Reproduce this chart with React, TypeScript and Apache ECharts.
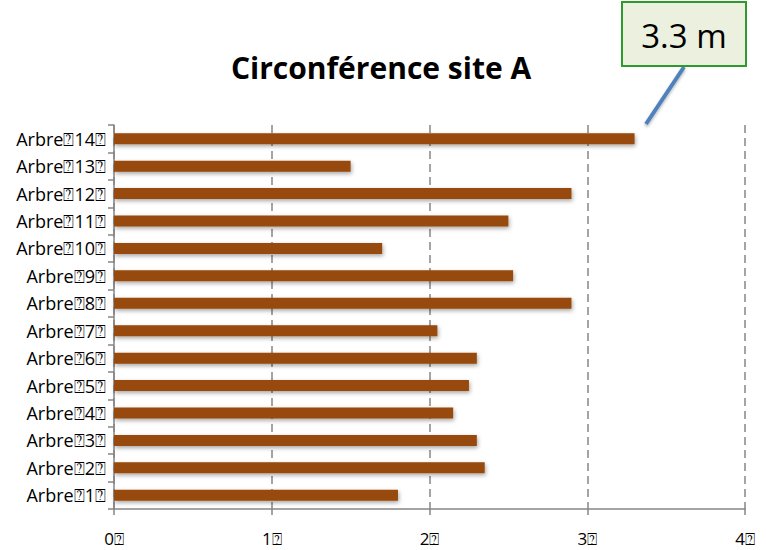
import React, { useEffect, useRef } from "react";
import * as echarts from "echarts";

const TITLE = "Circonférence site A";
const categories = [
  "Arbre⍰1⍰", "Arbre⍰2⍰", "Arbre⍰3⍰", "Arbre⍰4⍰", "Arbre⍰5⍰", "Arbre⍰6⍰", "Arbre⍰7⍰",
  "Arbre⍰8⍰", "Arbre⍰9⍰", "Arbre⍰10⍰", "Arbre⍰11⍰", "Arbre⍰12⍰", "Arbre⍰13⍰", "Arbre⍰14⍰",
];
const circumference = [1.8, 2.35, 2.3, 2.15, 2.25, 2.3, 2.05, 2.9, 2.53, 1.7, 2.5, 2.9, 1.5, 3.3];
const xTickLabels = ["0⍰", "1⍰", "2⍰", "3⍰", "4⍰"];
const calloutText = "3.3 m";

export default function App() {
  const ref = useRef<HTMLDivElement>(null);
  useEffect(() => {
    document.body.style.margin = "0";
    const chart = echarts.init(ref.current!, null, { renderer: "svg" });
    chart.setOption({
      animation: false,
      backgroundColor: "#ffffff",
      title: {
        text: TITLE,
        left: 376,
        textAlign: "center",
        top: 47,
        textStyle: { fontFamily: "Open Sans", fontWeight: "bold", fontSize: 30, color: "#000" },
      },
      grid: { left: 114, right: 21, top: 125, bottom: 41, containLabel: false },
      xAxis: {
        type: "value",
        min: 0,
        max: 4,
        interval: 1,
        axisLine: { show: true, lineStyle: { color: "#868686", width: 1.5 } },
        axisTick: { show: true, length: 6, lineStyle: { color: "#868686", width: 1.5 } },
        axisLabel: {
          margin: 21,
          fontFamily: "Open Sans",
          fontSize: 17,
          color: "#000",
          formatter: (v: number) => xTickLabels[Math.round(v)] ?? String(v),
        },
        splitLine: { show: true, lineStyle: { color: "#868686", width: 1.5, type: [8, 5] } },
      },
      yAxis: {
        type: "category",
        data: categories,
        axisLine: { show: true, lineStyle: { color: "#868686", width: 1.5 } },
        axisTick: { show: true, length: 6, lineStyle: { color: "#868686", width: 1.5 } },
        axisLabel: { margin: 8, fontFamily: "Open Sans", fontSize: 18, color: "#000" },
      },
      series: [
        {
          type: "bar",
          data: circumference,
          barWidth: 11,
          itemStyle: {
            color: "#984807",
            shadowColor: "rgba(0,0,0,0.35)",
            shadowBlur: 4,
            shadowOffsetX: 1,
            shadowOffsetY: 2,
          },
        },
      ],
      graphic: [
        {
          type: "line",
          shape: { x1: 684, y1: 67, x2: 646, y2: 124 },
          style: {
            stroke: "#4F81BD",
            lineWidth: 4,
            shadowColor: "rgba(0,0,0,0.3)",
            shadowBlur: 3,
            shadowOffsetY: 2,
          },
        },
        {
          type: "rect",
          shape: { x: 622, y: 2, width: 124, height: 64 },
          style: { fill: "#EBF1DE", stroke: "#2E9A2E", lineWidth: 2 },
        },
        {
          type: "text",
          x: 684,
          y: 35,
          style: {
            text: calloutText,
            fontFamily: "Open Sans",
            fontSize: 33,
            fill: "#000",
            align: "center",
            verticalAlign: "middle",
          },
        },
      ],
    });
    return () => chart.dispose();
  }, []);
  return <div ref={ref} style={{ width: 766, height: 550 }} />;
}
